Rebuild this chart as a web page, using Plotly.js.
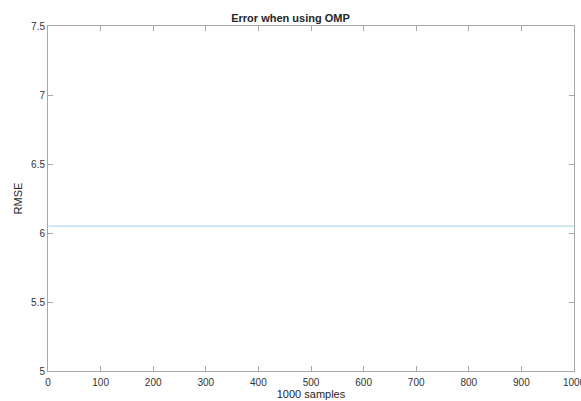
<!DOCTYPE html>
<html><head><meta charset="utf-8">
<script src="https://cdn.plot.ly/plotly-3.0.1.min.js"></script>
<style>html,body{margin:0;padding:0;background:#fff}#c{width:581px;height:401px}</style>
</head><body><div id="c"></div>
<script>
const sampleIdx = [1, 1000];
const rmseValues = [6.05, 6.05];
const xTicks = [0,100,200,300,400,500,600,700,800,900,1000];
const yTicks = [5,5.5,6,6.5,7,7.5];

const axisCommon = {
  showline: true, mirror: 'ticks', linecolor: '#a8a8a8', linewidth: 1,
  ticks: 'inside', ticklen: 5, tickcolor: '#a8a8a8', tickwidth: 1,
  showgrid: false, zeroline: false, ticklabeloverflow: 'allow',
  tickfont: {family: 'Liberation Sans, Arial', size: 10, color: '#333333'}
};
const trace = {x: sampleIdx, y: rmseValues, type: 'scatter', mode: 'lines',
  line: {color: 'rgb(160,205,235)', width: 1}, hoverinfo: 'skip'};
const layout = {
  width: 581, height: 401,
  margin: {l: 48, r: 7, t: 26, b: 30},
  paper_bgcolor: '#fff', plot_bgcolor: '#fff',
  showlegend: false,
  title: {text: '<b>Error when using OMP</b>', x: 0.5, xanchor: 'center', y: 0.955, yanchor: 'middle',
    font: {family: 'Liberation Sans, Arial', size: 11, color: '#262626'}},
  xaxis: Object.assign({}, axisCommon, {range: [0, 1000], tickvals: xTicks, ticktext: xTicks.map(String),
    ticklabelstandoff: 2,
    title: {text: '1000 samples', standoff: 0, font: {family: 'Liberation Sans, Arial', size: 11, color: '#262626'}}}),
  yaxis: Object.assign({}, axisCommon, {range: [5, 7.5], tickvals: yTicks, ticktext: yTicks.map(String),
    title: {text: 'RMSE', standoff: 6, font: {family: 'Liberation Sans, Arial', size: 11, color: '#262626'}}})
};
Plotly.newPlot('c', [trace], layout, {staticPlot: true, displayModeBar: false});
</script></body></html>
